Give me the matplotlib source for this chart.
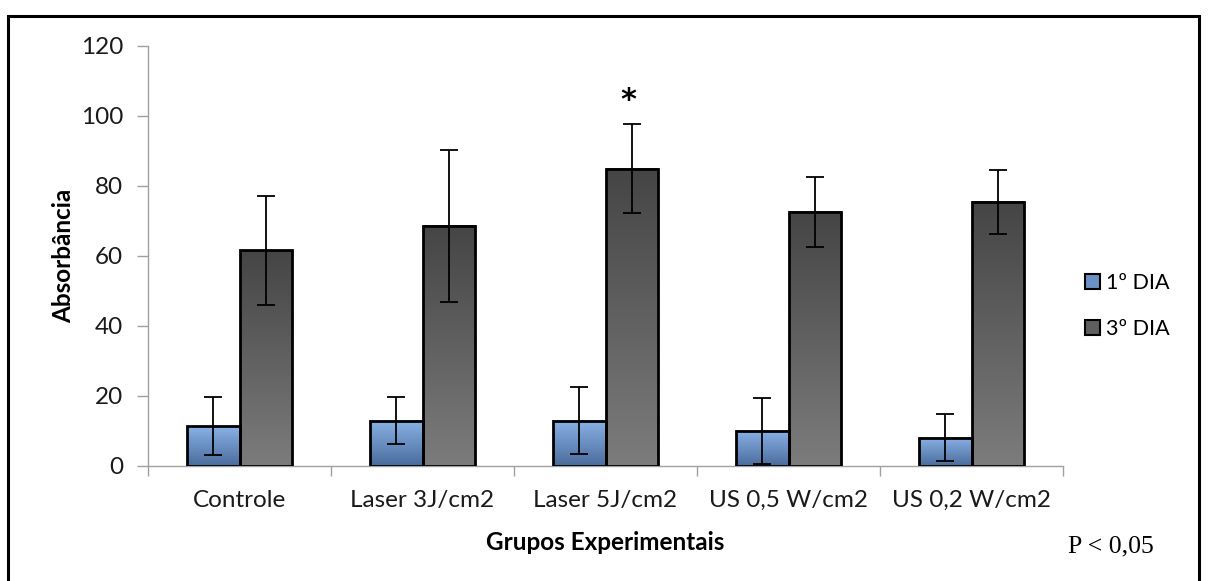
import matplotlib
matplotlib.use('Agg')
import matplotlib.pyplot as plt
from matplotlib.patches import Rectangle, Patch
import numpy as np

groups = ['Controle', 'Laser 3J/cm2', 'Laser 5J/cm2', 'US 0,5 W/cm2', 'US 0,2 W/cm2']
dia1 = [11.4, 13.0, 13.0, 10.0, 8.1]
dia1_err = [8.3, 6.7, 9.7, 9.3, 6.8]
dia3 = [61.6, 68.6, 85.0, 72.6, 75.5]
dia3_err = [15.6, 21.6, 12.7, 10.1, 9.2]
series_names = ['1º DIA', '3º DIA']
signif_idx = 2

plt.rcParams['font.family'] = ['Lato', 'DejaVu Sans']

fig = plt.figure(figsize=(12.09, 5.81), dpi=100)
ax = fig.add_axes([148 / 1209, 1 - 466 / 581, (1063 - 148) / 1209, (466 - 46) / 581])

x = np.arange(len(groups))
w = 0.287
grad = np.linspace(0, 1, 256).reshape(-1, 1)
blue_cmap = matplotlib.colors.LinearSegmentedColormap.from_list('b', ['#8ab2e6', '#4a6c9c'])
grey_cmap = matplotlib.colors.LinearSegmentedColormap.from_list('g', ['#454545', '#7c7c7c'])

bars1 = ax.bar(x - w / 2, dia1, w, facecolor='none', edgecolor='black', linewidth=2, zorder=3)
bars3 = ax.bar(x + w / 2, dia3, w, facecolor='none', edgecolor='black', linewidth=2, zorder=3)

for bars, cmap in [(bars1, blue_cmap), (bars3, grey_cmap)]:
    for b in bars:
        x0, y0 = b.get_x(), b.get_y()
        ax.imshow(grad, cmap=cmap, aspect='auto', origin='upper',
                  extent=[x0, x0 + b.get_width(), y0, y0 + b.get_height()], zorder=2)

ax.errorbar(x - w / 2, dia1, yerr=dia1_err, fmt='none', ecolor='black',
            elinewidth=1.3, capsize=6.5, capthick=1.3, zorder=4)
ax.errorbar(x + w / 2, dia3, yerr=dia3_err, fmt='none', ecolor='black',
            elinewidth=1.3, capsize=6.5, capthick=1.3, zorder=4)

ax.text(x[signif_idx] + w / 2 - 0.02, dia3[signif_idx] + dia3_err[signif_idx] + 2.5, '*',
        ha='center', va='bottom', fontsize=22, fontweight='bold', family='DejaVu Sans')

ax.set_xlim(-0.5, len(groups) - 0.5)
ax.set_ylim(0, 120)
ax.set_yticks(range(0, 121, 20))

ax.set_xticks(x)
ax.set_xticklabels(groups)
ax.set_xticks(np.arange(-0.5, len(groups), 1), minor=True)
ax.tick_params(axis='x', which='major', length=0, pad=17, labelsize=17.5, labelcolor='#1a1a1a')
ax.tick_params(axis='x', which='minor', length=7, color='#a0a0a0', width=1)
ax.tick_params(axis='y', length=8, color='#a0a0a0', width=1, pad=10, labelsize=17.5, labelcolor='#1a1a1a')

for s in ['top', 'right']:
    ax.spines[s].set_visible(False)
for s in ['left', 'bottom']:
    ax.spines[s].set_color('#a0a0a0')
    ax.spines[s].set_linewidth(1)

ax.set_ylabel('Absorbância', fontsize=17.5, fontweight='bold', labelpad=4)
ax.set_xlabel('Grupos Experimentais', fontsize=17.5, fontweight='bold', labelpad=14.5)

handles = [Patch(facecolor='#6a90c4', edgecolor='black', linewidth=1.5),
           Patch(facecolor='#5e5e5e', edgecolor='black', linewidth=1.5)]
fig.legend(handles, series_names, loc='center left', bbox_to_anchor=(1066 / 1209, 1 - 306 / 581),
           frameon=False, fontsize=15.5, handlelength=0.7, handleheight=0.7,
           handletextpad=0.25, labelspacing=1.2)

fig.text(1068 / 1209, 1 - 546 / 581, 'P < 0,05', family='Liberation Serif', fontsize=18.5,
         ha='left', va='center')

fig.patches.append(Rectangle((8 / 1209, -0.1), (1199 - 8) / 1209, 1.1 - 16 / 581,
                             transform=fig.transFigure, fill=False, edgecolor='black',
                             linewidth=2.2))

fig.savefig('out.png', dpi=100)
